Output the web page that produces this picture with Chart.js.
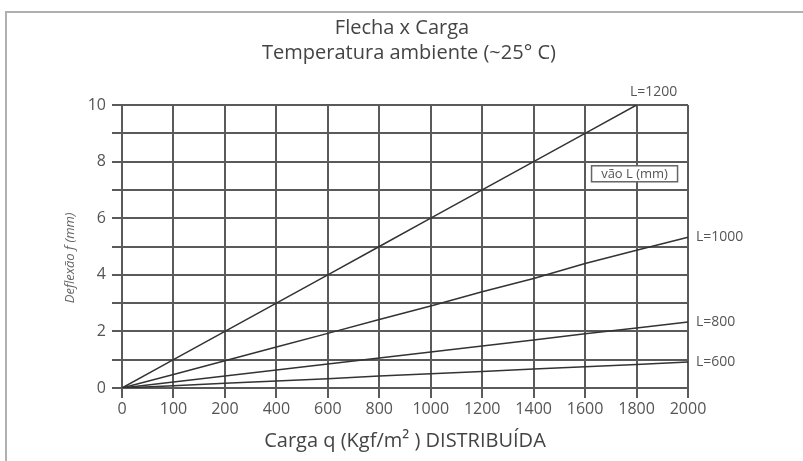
<!DOCTYPE html>
<html lang="pt">
<head>
  <meta charset="UTF-8" />
  <title>Flecha x Carga</title>
  <script src="https://cdn.jsdelivr.net/npm/chart.js"></script>
  <style>
    html, body {
      margin: 0;
      padding: 0;
      background: #ffffff;
    }
    #wrap {
      width: 803px;
      height: 461px;
    }
  </style>
</head>
<body>
  <div id="wrap"><canvas id="flechaChart" width="803" height="461"></canvas></div>

  <script>
    // categorias do eixo x (Kgf/m²)
    const cargas = ["0", "100", "200", "400", "600", "800", "1000", "1200", "1400", "1600", "1800", "2000"];

    // deflexão f (mm) por vão L
    const vaos = ["L=1200", "L=1000", "L=800", "L=600"];
    const flecha1200 = [0, 1, 2, 3, 4, 5, 6, 7, 8, 9, 10, null];
    const flecha1000 = [0, 0.48, 0.96, 1.45, 1.93, 2.42, 2.9, 3.4, 3.87, 4.4, 4.87, 5.33];
    const flecha800  = [0, 0.21, 0.42, 0.64, 0.85, 1.06, 1.27, 1.48, 1.7, 1.92, 2.12, 2.33];
    const flecha600  = [0, 0.08, 0.17, 0.25, 0.33, 0.42, 0.5, 0.58, 0.67, 0.75, 0.83, 0.92];

    const titulo = ["Flecha x Carga", "Temperatura ambiente (~25° C)"];
    const tituloY = "Deflexão f (mm)";
    const fonte = "'Open Sans', sans-serif";
    const corGrade = "#5a5a5a";
    const corTexto = "#555555";

    // moldura, títulos, rótulos das curvas e caixa "vão L (mm)"
    const anotacoes = {
      id: "anotacoes",
      beforeDraw(chart) {
        const c = chart.ctx;
        const y = chart.scales.y;
        c.save();
        c.strokeStyle = "#b0b0b0";
        c.lineWidth = 2;
        c.beginPath();
        c.moveTo(6, 461);
        c.lineTo(6, 12);
        c.lineTo(803, 12);
        c.stroke();

        c.fillStyle = "#444444";
        c.textAlign = "center";
        c.textBaseline = "middle";
        c.font = "20px " + fonte;
        c.fillText(titulo[0], 402, 28);
        c.fillText(titulo[1], 409, 53);

        c.save();
        c.translate(70, y.getPixelForValue(4.6));
        c.rotate(-Math.PI / 2);
        c.fillStyle = "#666666";
        c.font = "italic 13px " + fonte;
        c.fillText(tituloY, 0, 0);
        c.restore();
        c.restore();
      },
      afterDatasetsDraw(chart) {
        const c = chart.ctx;
        const x = chart.scales.x, y = chart.scales.y;
        c.save();
        c.fillStyle = corTexto;
        c.font = "14px " + fonte;
        c.textBaseline = "middle";

        // L=1200 termina em 1800
        c.textAlign = "center";
        c.fillText(vaos[0], x.getPixelForValue(10) + 17, y.getPixelForValue(10) - 13);

        c.textAlign = "left";
        const fins = [flecha1000, flecha800, flecha600];
        fins.forEach((serie, i) => {
          const v = serie[serie.length - 1];
          c.fillText(vaos[i + 1], x.getPixelForValue(11) + 8, y.getPixelForValue(v));
        });

        // caixa da legenda
        const cx = x.getPixelForValue(10) - 2, cy = y.getPixelForValue(7.57);
        c.fillStyle = "#ffffff";
        c.fillRect(cx - 43, cy - 8, 86, 16);
        c.strokeStyle = "#666";
        c.lineWidth = 1.5;
        c.strokeRect(cx - 43, cy - 8, 86, 16);
        c.fillStyle = corTexto;
        c.textAlign = "center";
        c.font = "13px " + fonte;
        c.fillText("vão L (mm)", cx, cy + 1);
        c.restore();
      }
    };

    const estiloLinha = {
      borderColor: "#333333",
      borderWidth: 1.5,
      pointRadius: 0,
      fill: false,
      tension: 0
    };

    new Chart(document.getElementById("flechaChart"), {
      type: "line",
      data: {
        labels: cargas,
        datasets: [
          { label: vaos[0], data: flecha1200, ...estiloLinha },
          { label: vaos[1], data: flecha1000, ...estiloLinha },
          { label: vaos[2], data: flecha800, ...estiloLinha },
          { label: vaos[3], data: flecha600, ...estiloLinha }
        ]
      },
      options: {
        responsive: false,
        animation: false,
        layout: { padding: { left: 10, right: 115, top: 105, bottom: 0 } },
        plugins: {
          legend: { display: false },
          tooltip: { enabled: false },
          title: { display: false }
        },
        scales: {
          x: {
            type: "category",
            offset: false,
            afterFit: s => { s.height = 73; },
            grid: { color: corGrade, lineWidth: 2, tickLength: 10, drawTicks: true },
            border: { color: corGrade, width: 2 },
            ticks: {
              color: corTexto,
              font: { family: fonte, size: 16 },
              autoSkip: false,
              maxRotation: 0,
              padding: 2
            },
            title: {
              display: true,
              text: "Carga q (Kgf/m² ) DISTRIBUÍDA",
              color: "#444444",
              font: { family: fonte, size: 20 },
              padding: { top: 0, bottom: 8 }
            }
          },
          y: {
            min: 0,
            max: 10,
            afterFit: s => { s.width = 112; },
            grid: { color: corGrade, lineWidth: 2, tickLength: 10 },
            border: { color: corGrade, width: 2 },
            ticks: {
              stepSize: 1,
              color: corTexto,
              font: { family: fonte, size: 16 },
              padding: 6,
              callback: v => (v % 2 === 0 ? v : "")
            }
          }
        }
      },
      plugins: [anotacoes]
    });
  </script>
</body>
</html>
